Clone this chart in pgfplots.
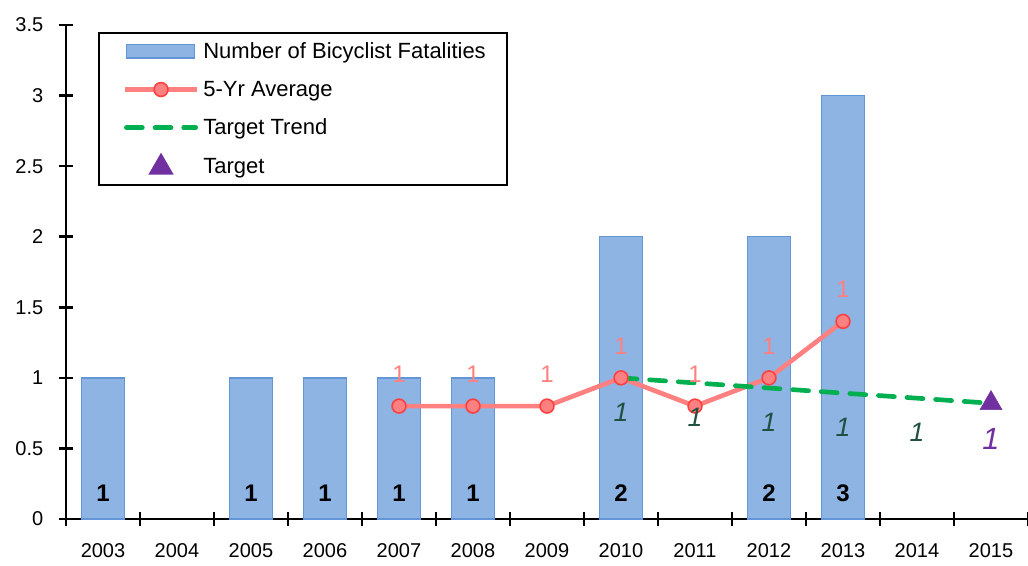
\documentclass[border=0pt]{standalone}
\usepackage{pgfplots}
\pgfplotsset{compat=1.18}
\usepackage{fontspec}
\setmainfont{Liberation Sans}
\definecolor{barfill}{HTML}{8EB4E3}
\definecolor{baredge}{HTML}{6495D6}
\definecolor{avgline}{HTML}{FF8080}
\definecolor{avgedge}{HTML}{FF4040}
\definecolor{trend}{HTML}{00B050}
\definecolor{trendlab}{HTML}{1F5040}
\definecolor{target}{HTML}{7030A0}
\newcommand\fs{\fontsize{15}{18}\selectfont}
\newcommand\fl{\fontsize{16.5}{19}\selectfont}
\pgfplotsset{
  legbb/.style={},
  barleg/.style={legend image code/.code={\path[draw=none,fill=none] (0pt,0pt) -- (1pt,0pt); \draw[fill=barfill, draw=baredge, line width=1pt] (6.5pt,-5pt) rectangle (57.5pt,5pt);}},
  avgleg/.style={legend image code/.code={\path[draw=none,fill=none] (0pt,0pt) -- (1pt,0pt); \draw[##1, mark repeat=2, mark phase=2] plot coordinates {(5.5pt,0pt) (32.5pt,0pt) (59.5pt,0pt)};}},
  trendleg/.style={legend image code/.code={\path[draw=none,fill=none] (0pt,0pt) -- (1pt,0pt); \draw[##1] (6.5pt,0pt) -- (58.5pt,0pt);}},
  targetleg/.style={legend image code/.code={\path[draw=none,fill=none] (0pt,0pt) -- (58.5pt,0pt); \draw[##1] plot[only marks] coordinates {(32.5pt,0pt)};}},
}
\begin{document}
\begin{tikzpicture}
\useasboundingbox (-49.5pt,-34.5pt) rectangle (721.5pt,389.25pt);
\begin{axis}[
  scale only axis, width=721.5pt, height=370.5pt,
  at={(0pt,0pt)}, anchor=south west,
  xmin=2002.5, xmax=2015.5, ymin=0, ymax=3.5,
  axis x line=bottom, axis y line=left,
  axis line style={line width=2pt,-},
  clip=false,
  xtick={2003,...,2015},
  minor xtick={2002.5,2003.5,...,2015.5},
  ytick={0,0.5,...,3.5},
  tick align=center,
  major tick length=11pt, minor tick length=11pt,
  major x tick style={draw=none},
  minor x tick style={line width=2pt, black},
  major y tick style={line width=2pt, black},
  /pgf/number format/assume math mode=true,
  xticklabel style={font=\fs, /pgf/number format/1000 sep={}, yshift=-9.5pt},
  yticklabel style={font=\fs, xshift=-8pt},
  legend cell align=left,
  legend style={at={(0.0333,0.9858)}, anchor=north west, draw=black, line width=1.5pt,
    font=\fl, inner xsep=14pt, inner ysep=5pt, row sep=11.5pt,
    /tikz/every odd column/.append style={column sep=1pt}},
]
\addplot[ybar, bar width=0.58, fill=barfill, draw=baredge, line width=1pt, barleg]
  coordinates {(2003,1) (2005,1) (2006,1) (2007,1) (2008,1) (2010,2) (2012,2) (2013,3)};
\addlegendentry{Number of Bicyclist Fatalities}

\addplot[forget plot, draw=none, mark=none, nodes near coords, point meta=explicit symbolic,
  every node near coord/.append style={anchor=center, font=\fontsize{18}{20}\selectfont\bfseries, text=black}]
  table[meta=lab]{
x y lab
2003 0.18 1
2005 0.18 1
2006 0.18 1
2007 0.18 1
2008 0.18 1
2010 0.18 2
2012 0.18 2
2013 0.18 3
};

\addplot[color=avgline, line width=3.5pt, mark=*, mark size=5.2pt,
  mark options={fill=avgline, draw=avgedge, line width=1.2pt},
  nodes near coords, point meta=explicit symbolic,
  every node near coord/.append style={anchor=center, yshift=24pt, font=\fontsize{18}{20}\selectfont, text=avgline},
  avgleg]
  table[meta=lab]{
x y lab
2007 0.8 1
2008 0.8 1
2009 0.8 1
2010 1.0 1
2011 0.8 1
2012 1.0 1
2013 1.4 1
};
\addlegendentry{5-Yr Average}

\addplot[color=trend, line width=3.5pt, dash pattern=on 12pt off 9.5pt, line cap=round, mark=none, trendleg]
  coordinates {(2010,1.0) (2011,0.964) (2012,0.928) (2013,0.892) (2014,0.856) (2015,0.82)};
\addlegendentry{Target Trend}

\addplot[forget plot, draw=none, mark=none, nodes near coords, point meta=explicit symbolic,
  every node near coord/.append style={anchor=center, yshift=-25.5pt, font=\fontsize{20}{22}\selectfont\itshape, text=trendlab}]
  table[meta=lab]{
x y lab
2010 1.0 1
2011 0.964 1
2012 0.928 1
2013 0.892 1
2014 0.856 1
};

\addplot[only marks, mark=triangle*, mark size=9.5pt, color=target, mark options={fill=target, draw=target},
  nodes near coords, point meta=explicit symbolic,
  every node near coord/.append style={anchor=center, yshift=-27pt, font=\fontsize{23}{26}\selectfont\itshape, text=target},
  targetleg]
  table[meta=lab]{
x y lab
2015 0.82 1
};
\addlegendentry{Target}
\end{axis}
\end{tikzpicture}
\end{document}
